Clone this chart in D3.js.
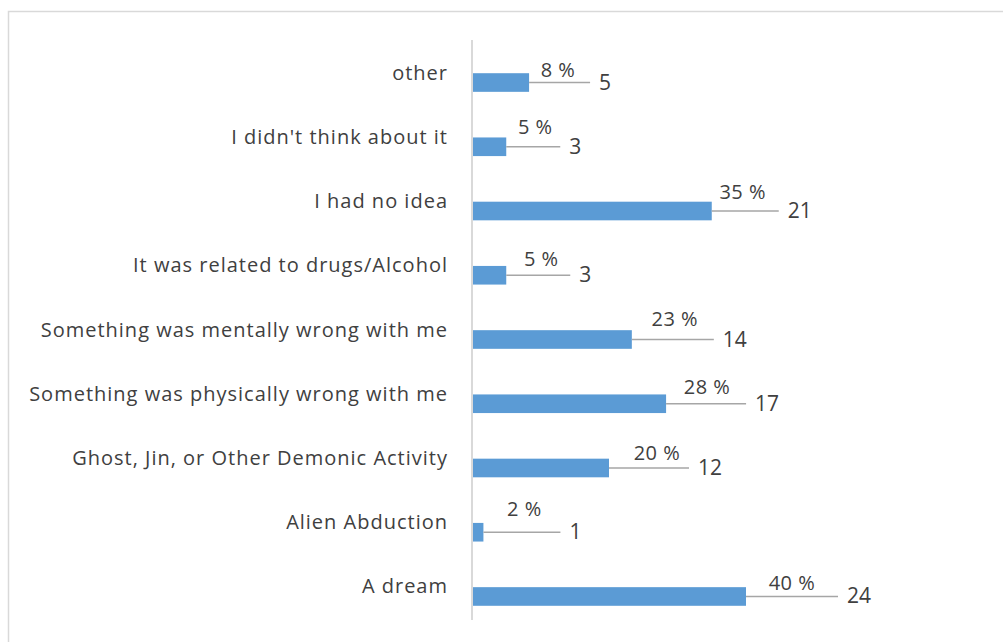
<!DOCTYPE html>
<html>
<head>
<meta charset="utf-8">
<script src="https://cdn.jsdelivr.net/npm/d3@7"></script>
<style>
  html, body { margin: 0; padding: 0; background: #fff; }
  svg { display: block; }
</style>
</head>
<body>
<svg id="chart" width="1003" height="642"></svg>
<script>
// ---- data ----
const categories = [
  "other",
  "I didn't think about it",
  "I had no idea",
  "It was related to drugs/Alcohol",
  "Something was mentally wrong with me",
  "Something was physically wrong with me",
  "Ghost, Jin, or Other Demonic Activity",
  "Alien Abduction",
  "A dream"
];
const counts = [5, 3, 21, 3, 14, 17, 12, 1, 24];
const percents = [8, 5, 35, 5, 23, 28, 20, 2, 40];

// ---- layout of manually placed data labels (pixels) ----
const leaderLen = [61, 54, 67, 64, 82, 80, 80, 77, 92];
const pctShift = [-32, -25, -36, -29, -39, -39, -32, -36, -46];
const pctDy = [-6, -13, -12, -9, -13.5, -9.5, -8, -16, -6.5];

const svg = d3.select("#chart");
const textColor = "#404040";
const fontFam = "'Open Sans', 'DejaVu Sans', sans-serif";

// chart frame
svg.append("rect")
  .attr("x", 8.5).attr("y", 11.5)
  .attr("width", 1100).attr("height", 700)
  .attr("fill", "#fff").attr("stroke", "#d9d9d9").attr("stroke-width", 1.5);

const x = d3.scaleLinear().domain([0, 30]).range([472, 814.5]);
const y = d3.scaleBand().domain(categories).range([50.4, 628.6])
  .paddingInner(0.71).paddingOuter(0.355);

// bars
svg.append("g").selectAll("rect")
  .data(categories)
  .join("rect")
  .attr("x", x(0))
  .attr("y", d => y(d))
  .attr("width", (d, i) => x(counts[i]) - x(0))
  .attr("height", y.bandwidth())
  .attr("fill", "#5b9bd5");

// vertical category axis
const yAxis = d3.axisLeft(y).tickSize(0).tickPadding(24);
const ag = svg.append("g").attr("transform", `translate(${x(0)},0)`).call(yAxis);
ag.select(".domain").remove();
ag.append("line")
  .attr("x1", 0).attr("x2", 0).attr("y1", 40).attr("y2", 620)
  .attr("stroke", "#d9d9d9").attr("stroke-width", 2);
ag.selectAll(".tick text")
  .attr("fill", textColor)
  .attr("font-family", fontFam)
  .attr("font-size", 20)
  .attr("letter-spacing", 1)
  .attr("dy", -3);

// leader lines and data labels
const lg = svg.append("g");
categories.forEach((c, i) => {
  const cy = y(c) + y.bandwidth() / 2;
  const x0 = x(counts[i]);
  const x1 = x0 + leaderLen[i];
  lg.append("line")
    .attr("x1", x0).attr("x2", x1).attr("y1", cy).attr("y2", cy)
    .attr("stroke", "#a6a6a6").attr("stroke-width", 1.5);
  lg.append("text")
    .attr("x", x1 + pctShift[i]).attr("y", cy + pctDy[i])
    .attr("text-anchor", "middle")
    .attr("fill", textColor)
    .attr("font-family", fontFam).attr("font-size", 20)
    .attr("letter-spacing", 0.5)
    .text(percents[i] + " %");
  lg.append("text")
    .attr("x", x1 + 9).attr("y", cy + 7)
    .attr("fill", textColor)
    .attr("font-family", fontFam).attr("font-size", 21)
    .text(counts[i]);
});
</script>
</body>
</html>
